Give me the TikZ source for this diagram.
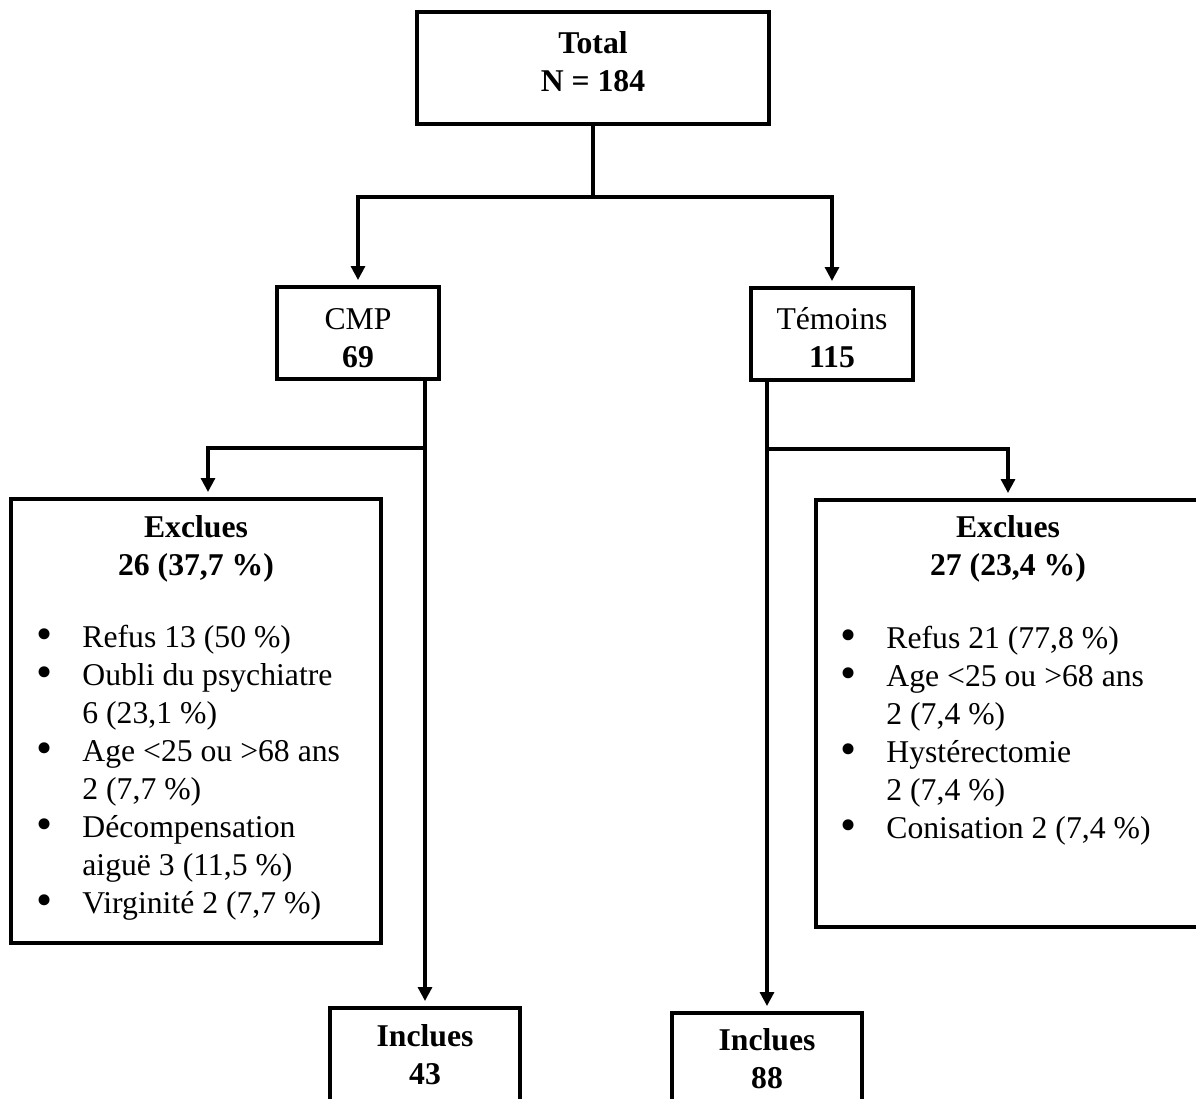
\documentclass[tikz,border=0pt]{standalone}
\usepackage{fontspec}
\setmainfont{Liberation Serif}
\usetikzlibrary{arrows.meta}
\newcommand{\bigbul}{\raisebox{-1.2pt}{\scalebox{1.45}{•}}}
\begin{document}
\begin{tikzpicture}[x=0.5pt,y=-0.5pt,
  every node/.style={font=\fontsize{15.85}{19}\selectfont},
  boxx/.style={draw,line width=2pt,rectangle,inner sep=0pt},
  txt/.style={align=center,inner sep=0pt},
  conn/.style={line width=1.6pt},
  arr/.style={line width=1.6pt,-{Triangle[width=7pt,length=7pt]},shorten >=2.5pt}]
\clip (0,0) rectangle (1196,1099);
\fill[white] (0,0) rectangle (1196,1099);
% boxes
\node[boxx,minimum width=176pt,minimum height=56pt] (total) at (593,68) {};
\node[txt] (totaltxt) at (593,62) {\textbf{Total}\\\textbf{N = 184}};
\node[boxx,minimum width=81pt,minimum height=46pt] (cmp) at (358,333) {};
\node[txt] (cmptxt) at (358,338) {CMP\\\textbf{69}};
\node[boxx,minimum width=81pt,minimum height=46pt] (tem) at (832,334) {};
\node[txt] (temtxt) at (832,338) {Témoins\\\textbf{115}};
\node[boxx,minimum width=185pt,minimum height=222pt] (exclL) at (196,721) {};
\node[txt] (exclLtitle) at (196,549) {\textbf{Exclues}\\\textbf{26 (37,7 \%)}};
\node[anchor=base west,inner sep=0pt] (exclLlist) at (36,647) {%
  \begin{tabular}[t]{@{}p{23pt}@{}l@{}}
  \bigbul & Refus 13 (50 \%)\\
  \bigbul & Oubli du psychiatre\\
    & 6 (23,1 \%)\\
  \bigbul & Age <25 ou >68 ans\\
    & 2 (7,7 \%)\\
  \bigbul & Décompensation\\
    & aiguë 3 (11,5 \%)\\
  \bigbul & Virginité 2 (7,7 \%)
  \end{tabular}};
\node[boxx,minimum width=192pt,minimum height=213.5pt] (exclR) at (1008,713.5) {};
\node[txt] (exclRtitle) at (1008,549) {\textbf{Exclues}\\\textbf{27 (23,4 \%)}};
\node[anchor=base west,inner sep=0pt] (exclRlist) at (840,648) {%
  \begin{tabular}[t]{@{}p{23pt}@{}l@{}}
  \bigbul & Refus 21 (77,8 \%)\\
  \bigbul & Age <25 ou >68 ans\\
    & 2 (7,4 \%)\\
  \bigbul & Hystérectomie\\
    & 2 (7,4 \%)\\
  \bigbul & Conisation 2 (7,4 \%)
  \end{tabular}};
\node[boxx,minimum width=95pt,minimum height=57pt] (inclL) at (425,1065) {};
\node[txt] (inclLtxt) at (425,1055) {\textbf{Inclues}\\\textbf{43}};
\node[boxx,minimum width=95pt,minimum height=57pt] (inclR) at (767,1070) {};
\node[txt] (inclRtxt) at (767,1059) {\textbf{Inclues}\\\textbf{88}};
% connectors
\coordinate (tj) at (593,197);
\coordinate (cj) at (425,448);
\coordinate (rj) at (767,449);
\draw[conn] (total.south) -- (tj);
\draw[arr] (tj) -| (cmp.north);
\draw[arr] (tj) -| (tem.north);
\draw[arr] (cmp.south -| cj) -- (inclL.north);
\draw[arr] (cj) -| ([xshift=6pt]exclL.north);
\draw[arr] (tem.south -| rj) -- (inclR.north);
\draw[arr] (rj) -| (exclR.north);
\end{tikzpicture}
\end{document}
